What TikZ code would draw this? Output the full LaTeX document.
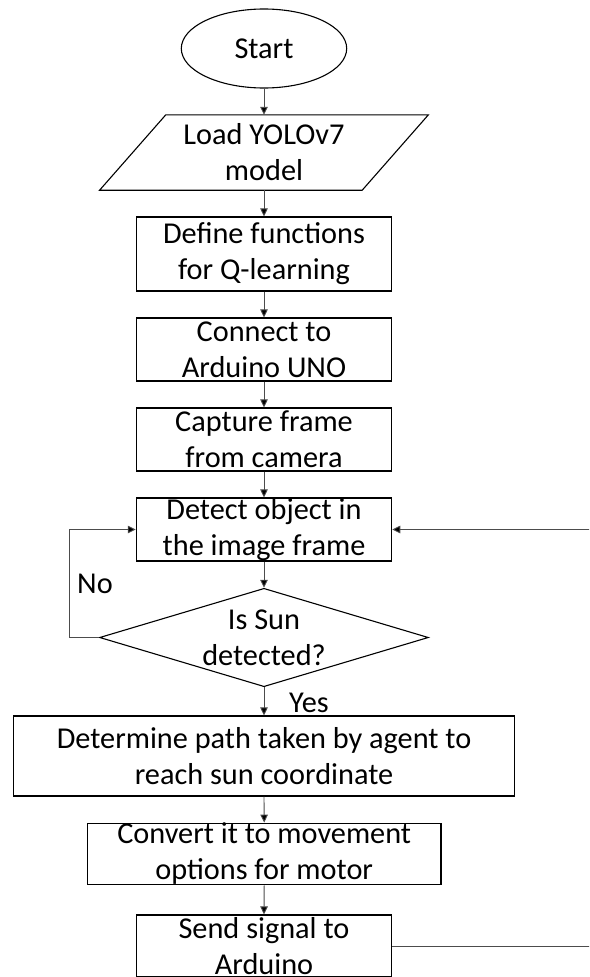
\documentclass[tikz,border=0pt]{standalone}
\usepackage{fontspec}
\setmainfont{Carlito}
\usetikzlibrary{shapes.geometric,arrows.meta}

\begin{document}
\begin{tikzpicture}[x=1pt,y=-1pt,
  every node/.style={font=\fontsize{30.3}{36}\selectfont, inner sep=0pt, align=center},
  box/.style={draw=black, line width=1.1pt, rectangle, minimum width=255.4pt, minimum height=63pt},
  terminal/.style={draw=black, line width=1.1pt, ellipse, minimum width=165.4pt, minimum height=79pt},
  iobody/.style={rectangle, minimum width=262.2pt, minimum height=75pt},
  decisionbox/.style={draw=black, line width=1.1pt, diamond, minimum width=328.8pt, minimum height=98.4pt},
  flow/.style={draw=black!70, line width=0.9pt, -{Triangle[length=8pt,width=7.5pt,fill=black]}},
  edgelabel/.style={font=\fontsize{30.3}{36}\selectfont}
]
\useasboundingbox (0,0) rectangle (589,977);
\clip (0,0) rectangle (589,977);

% process steps
\node[terminal] (start) at (264,48.5) {Start};
\node[iobody] (load) at (264,152.5) {Load YOLOv7\\model};
\draw[line width=1.1pt] ([xshift=33.1pt]load.north west) -- ([xshift=33.1pt]load.north east)
  -- ([xshift=-33.1pt]load.south east) -- ([xshift=-33.1pt]load.south west) -- cycle;
\node[box, minimum height=74pt] (define) at (264,254) {Define functions\\for Q-learning};
\node[box] (connect) at (264,349.5) {Connect to\\Arduino UNO};
\node[box] (capture) at (264,439.5) {Capture frame\\from camera};
\node[box] (detect) at (264,529.5) {Detect object in\\the image frame};
\node[decisionbox] (decision) at (264,637.5) {};
\node (decisiontext) at (264,637.5) {Is Sun\\detected?};
\node[box, minimum width=501pt, minimum height=80pt] (determine) at (264,756) {Determine path taken by agent to\\reach sun coordinate};
\node[box, minimum width=353.5pt, minimum height=61pt] (convert) at (264.2,854) {Convert it to movement\\options for motor};
\node[box, minimum height=62pt] (send) at (264,946) {Send signal to\\Arduino};

% connectors
\draw[flow] (start.south) -- (load.north);
\draw[flow] (load.south) -- (define.north);
\draw[flow] (define.south) -- (connect.north);
\draw[flow] (connect.south) -- (capture.north);
\draw[flow] (capture.south) -- (detect.north);
\draw[flow] (detect.south) -- (decision.north);
\draw[flow] (decision.south) -- (determine.north);
\draw[flow] (determine.south) -- (convert.north);
\draw[flow] (convert.south) -- (send.north);
\draw[flow] (decision.west) -- ++(-29.5,0) |- (detect.west);
\draw[flow] (send.east) -- ++(240,0) |- (detect.east);

% branch labels
\node[edgelabel] (nolabel) at (95,584) {No};
\node[edgelabel] (yeslabel) at (309,703) {Yes};
\end{tikzpicture}
\end{document}
